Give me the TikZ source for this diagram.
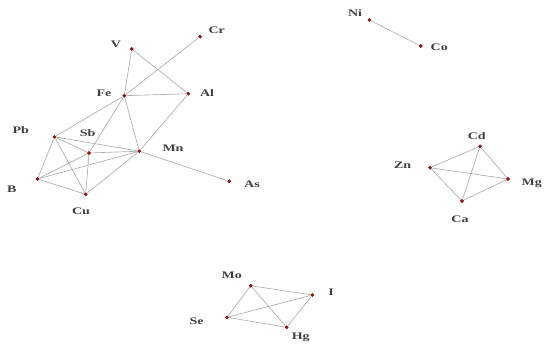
\documentclass[tikz,border=0pt]{standalone}
\usepackage{fontspec}
\setmainfont{Liberation Serif}
\newfontfamily\labfont[FakeStretch=1.4]{Liberation Serif}
\usetikzlibrary{positioning}
\definecolor{DotRed}{HTML}{8B1A1A}
\definecolor{EdgeGrey}{HTML}{A8A8A8}

\tikzset{
  elem/.style={circle,fill=DotRed,inner sep=0pt,minimum size=3.6pt},
  elab/.style={font=\labfont\fontsize{10}{12}\selectfont\bfseries,text=black!75,inner sep=0pt},
  link/.style={EdgeGrey,line width=0.6pt}
}

\begin{document}
\begin{tikzpicture}[x=1pt,y=-1pt]
  \useasboundingbox (0,0) rectangle (550,348);
  % --- groupe principal (Fe, Mn, ...) ---
  \node[elem] (v)  at (131.7,49)  {};
  \node[elem] (cr) at (200,36.7)  {};
  \node[elem] (fe) at (124.3,95.7) {};
  \node[elem] (al) at (188.3,93.7) {};
  \node[elem] (pb) at (54.5,136.8) {};
  \node[elem] (sb) at (89,153)    {};
  \node[elem] (mn) at (139.3,151.2) {};
  \node[elem] (b)  at (37.5,179)  {};
  \node[elem] (cu) at (85.7,194.3) {};
  \node[elem] (as) at (229.3,181.3) {};
  \node[elab] (lv)  at (116,44)    {V};
  \node[elab] (lcr) at (216.7,30.7) {Cr};
  \node[elab] (lfe) at (104,93)    {Fe};
  \node[elab] (lal) at (207,92.7)  {Al};
  \node[elab] (lpb) at (20.7,130)  {Pb};
  \node[elab] (lsb) at (87.7,132.7) {Sb};
  \node[elab] (lmn) at (173,148.3) {Mn};
  \node[elab] (lb)  at (11.7,189)  {B};
  \node[elab] (lcu) at (81,211)    {Cu};
  \node[elab] (las) at (252,184)   {As};
  % --- Ni / Co ---
  \node[elem] (ni) at (369.3,20)  {};
  \node[elem] (co) at (420.7,46)  {};
  \node[elab] (lni) at (355,12.7) {Ni};
  \node[elab] (lco) at (439.3,47.3) {Co};
  % --- Cd, Zn, Mg, Ca ---
  \node[elem] (cd) at (480,146.3) {};
  \node[elem] (zn) at (430,167.7) {};
  \node[elem] (mg) at (508,179)   {};
  \node[elem] (ca) at (462,201)   {};
  \node[elab] (lcd) at (476.7,135.7) {Cd};
  \node[elab] (lzn) at (402.7,165.7) {Zn};
  \node[elab] (lmg) at (531.7,183.3) {Mg};
  \node[elab] (lca) at (460,219)     {Ca};
  % --- Mo, I, Se, Hg ---
  \node[elem] (mo) at (250.7,285.7) {};
  \node[elem] (i)  at (312.3,295)   {};
  \node[elem] (se) at (227,317.3)   {};
  \node[elem] (hg) at (286.7,327.3) {};
  \node[elab] (lmo) at (231.7,275)   {Mo};
  \node[elab] (li)  at (331,292.7)   {I};
  \node[elab] (lse) at (196.7,321)   {Se};
  \node[elab] (lhg) at (300.7,337.3) {Hg};
  % aretes
  \foreach \a/\z in {v/fe,v/al,cr/fe,fe/al,fe/pb,fe/sb,fe/mn,al/mn,mn/as,
                     pb/sb,pb/mn,pb/b,pb/cu,sb/mn,sb/b,sb/cu,b/mn,b/cu,cu/mn,
                     ni/co,
                     zn/cd,zn/mg,zn/ca,cd/mg,cd/ca,mg/ca,
                     mo/i,mo/se,mo/hg,se/i,se/hg,hg/i}
    \draw[link] (\a) -- (\z);
  % points redessines par-dessus
  \foreach \n in {v,cr,fe,al,pb,sb,mn,b,cu,as,ni,co,cd,zn,mg,ca,mo,i,se,hg}
    \node[elem] at (\n) {};
\end{tikzpicture}
\end{document}
